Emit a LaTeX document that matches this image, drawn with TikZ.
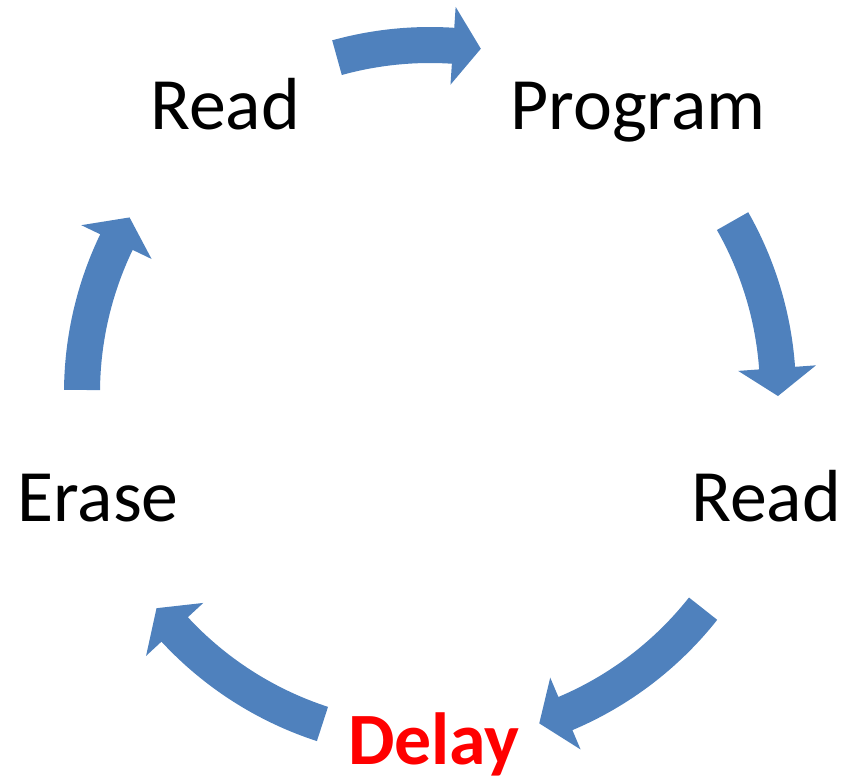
\documentclass[tikz,border=0pt]{standalone}
\usepackage{fontspec}
\setmainfont{Carlito}
\usepackage{tikz}
\definecolor{cycleblue}{RGB}{79,129,189}
% #1 = tail angle, #2 = tip angle (arrows run clockwise)
\newcommand\cyclearrow[2]{%
  \fill[cycleblue] (#1:7.32) arc[start angle=#1, end angle={#2+4.6}, radius=7.32]
    -- ({#2+4.6}:7.74) -- (#2:6.96) -- ({#2+4.6}:6.18) -- ({#2+4.6}:6.6)
    arc[start angle={#2+4.6}, end angle=#1, radius=6.6] -- cycle;}

\begin{document}
\begin{tikzpicture}[lbl/.style={font=\fontsize{42}{50}\selectfont, anchor=base, inner sep=0pt}]
    \useasboundingbox (-8.6,-7.76) rectangle (8.54,7.86);
    \begin{scope}
        \cyclearrow{105.5}{81.6}
        \cyclearrow{29.6}{-0.5}
        \cyclearrow{-38.3}{-71.7}
        \cyclearrow{-108}{-141.8}
        \cyclearrow{179.5}{149.7}
    \end{scope}
    \node[lbl] (readtop) at (-4.10,5.26) {Read};
    \node[lbl] (program) at (4.16,5.26) {Program};
    \node[lbl] (readright) at (6.72,-2.58) {Read};
    \node[lbl, font=\fontsize{42}{50}\selectfont\bfseries, text=red] (delay) at (0.08,-7.44) {Delay};
    \node[lbl] (erase) at (-6.64,-2.58) {Erase};
\end{tikzpicture}
\end{document}
